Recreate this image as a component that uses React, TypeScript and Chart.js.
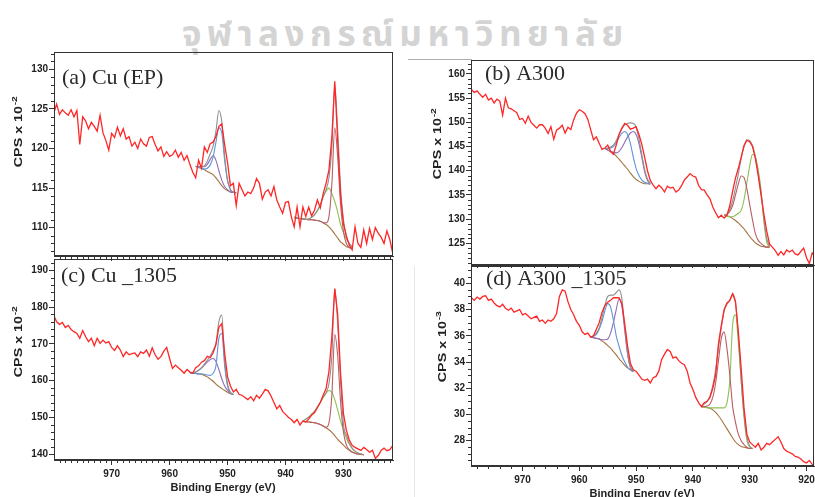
import React, { useEffect, useRef } from "react";
import { Chart, registerables } from "chart.js";
Chart.register(...registerables);

// ---------- data ----------
const STEP = 0.5; // eV between samples
const START_AC = 980; // first energy of spectra (a) and (c)
const START_BD = 979; // first energy of spectra (b) and (d)

// (a) Cu (EP) raw spectrum, CPS x 10^-2
const aRed = [124.4,125.6,124.3,124.9,124.5,124.2,124.9,124.0,124.8,120.5,
124.0,123.5,122.5,123.3,122.8,122.2,124.2,122.0,121.0,119.8,
121.9,121.4,122.7,121.6,122.5,121.2,121.5,120.3,120.8,120.0,
121.2,120.6,120.3,121.4,121.5,120.5,119.7,120.2,119.0,119.6,
119.0,119.2,119.8,118.9,119.5,118.5,119.1,118.0,117.0,116.3,
118.5,117.5,120.2,119.5,120.6,120.8,121.5,122.8,123.1,120.5,
118.2,115.3,115.6,112.8,115.6,114.8,114.0,114.5,114.3,115.0,
116.2,115.6,113.6,114.5,114.8,114.0,115.2,113.5,112.6,111.8,
113.2,113.3,111.4,110.1,112.6,110.1,112.6,111.4,112.6,111.5,
112.2,113.5,112.5,114.3,115.6,117.3,121.4,128.5,121.0,114.0,
110.5,108.9,107.8,107.2,110.1,108.0,107.5,109.7,108.0,109.9,
108.5,110.0,109.3,108.8,108.0,109.6,108.5,106.8];
// (a) fit, Cu 2p1/2 region
const aP12Start = 955.5;
const aP12Bg = [117.75,117.6,117.5,117.3,117.1,116.9,116.7,116.3,115.8,115.3,114.9,114.7,114.5,114.45,114.4];
const aP12Purple = [117.75,117.7,117.7,117.7,118.0,118.6,119.1,118.5,117.2,116.0,115.2,114.8,114.5,114.45,114.4];
const aP12Blue = [117.75,117.6,117.5,117.4,117.5,117.9,118.9,120.8,122.6,122.0,118.5,115.9,114.8,114.5,114.4];
const aP12Env = [117.75,117.7,117.7,117.8,118.4,119.3,120.3,122.2,124.8,123.4,119.0,116.0,114.8,114.5,114.4];
// (a) fit, Cu 2p3/2 region
const aP32Start = 938.5;
const aP32Bg = [111.3,111.2,111.15,111.1,111.05,111.0,111.0,110.95,110.9,110.8,110.6,110.4,110.1,109.7,109.2,108.7,108.2,107.9,107.6,107.5,107.4];
const aP32Comp = [111.3,111.2,111.15,111.1,111.05,111.0,111.0,110.95,110.9,110.8,110.65,110.6,111.4,115.5,122.6,119.0,113.0,109.5,108.0,107.5,107.4];
const aP32Green = [111.3,111.2,111.15,111.1,111.05,111.1,111.3,111.6,112.1,112.9,113.9,114.6,115.0,114.3,113.3,112.0,110.4,109.4,108.6,108.0,107.6];
const aP32Env = [111.3,111.2,111.15,111.1,111.05,111.1,111.3,111.65,112.2,112.9,113.9,114.8,116.3,120.1,128.0,122.3,115.2,111.0,109.0,108.0,107.6];

// (c) Cu _1305 raw spectrum, CPS x 10^-2
const cRed = [177.8,176.0,175.3,175.8,174.4,175.0,173.9,173.3,172.8,171.5,
173.6,172.0,170.6,171.5,169.5,171.5,170.1,171.0,170.2,170.6,
169.0,168.2,169.5,168.3,166.5,167.8,167.0,167.3,167.5,166.5,
167.8,167.4,168.3,166.6,168.9,167.0,165.8,166.5,168.0,169.0,
166.0,163.3,164.2,163.5,162.8,162.0,163.0,162.3,162.0,163.5,
164.0,165.0,165.4,166.6,166.2,167.5,169.8,174.5,175.5,167.5,
161.0,158.5,156.9,157.6,156.2,156.0,155.4,154.8,155.6,154.5,
156.0,155.2,156.3,157.6,157.2,155.8,154.0,152.3,153.2,151.6,
150.8,150.0,149.4,148.5,149.4,147.9,149.0,148.7,149.5,150.6,
151.2,152.6,154.0,156.0,157.8,162.5,172.0,185.0,178.0,162.0,
151.0,146.5,143.8,142.4,141.8,141.4,141.0,141.8,141.2,140.5,
141.0,138.8,139.6,141.0,141.6,140.9,141.2,142.3];
const cP12Start = 956.5;
const cP12Bg = [162.1,162.0,161.9,161.8,161.7,161.4,161.0,160.4,159.8,159.0,158.4,157.8,157.3,156.8,156.4,156.2];
const cP12Purple = [162.1,162.1,162.3,162.8,163.4,164.2,165.0,165.7,166.0,165.2,163.0,160.5,158.5,157.3,156.6,156.2];
const cP12Blue = [162.1,162.0,161.9,161.8,161.8,161.7,161.5,161.4,162.0,164.0,171.5,172.8,164.0,158.5,156.6,156.2];
const cP12Env = [162.1,162.1,162.3,162.8,163.5,164.5,165.5,166.7,168.2,170.2,176.0,177.8,165.5,159.0,156.8,156.2];
const cP32Start = 937;
const cP32Bg = [148.9,148.8,148.7,148.6,148.5,148.3,148.0,147.6,147.1,146.6,145.9,145.0,144.0,143.2,142.4,141.6,141.0,140.5,140.2,140.0,139.9,139.8];
const cP32Comp = [148.9,148.8,148.7,148.6,148.5,148.3,148.0,147.6,147.3,148.5,156.0,172.5,166.8,154.2,146.0,142.5,141.2,140.6,140.2,140.0,139.9,139.8];
const cP32Green = [149.0,149.5,150.0,150.8,151.6,152.8,154.0,155.3,156.5,157.3,156.8,154.8,152.0,149.0,146.5,144.3,142.7,141.5,140.8,140.3,140.0,139.8];
const cP32Env = [149.0,149.5,150.0,150.8,151.6,152.8,154.1,155.5,156.7,159.2,166.9,185.0,175.5,160.0,148.1,145.2,143.0,141.6,140.8,140.3,140.0,139.8];

// (b) A300 raw spectrum, CPS x 10^-2
const bRed = [156.8,156.2,156.5,155.8,155.2,155.8,154.6,155.0,154.0,154.8,
154.4,151.5,155.0,153.0,152.8,152.4,152.0,150.6,150.8,149.8,
151.3,150.0,149.4,148.8,149.5,149.5,148.8,147.7,149.1,146.5,
148.4,148.8,149.4,147.8,149.0,148.5,150.5,151.9,152.6,152.3,
151.8,150.6,148.5,146.4,147.0,145.7,144.4,144.7,145.3,144.0,
143.4,145.3,147.5,148.8,149.8,149.4,148.6,148.8,149.1,147.5,
145.5,142.8,140.0,138.0,137.0,136.3,137.0,136.5,135.6,136.8,
136.4,136.6,135.6,136.0,136.9,138.1,138.7,139.4,138.9,138.7,
137.0,136.1,136.0,135.0,134.2,132.5,131.3,130.3,130.8,130.2,
130.8,132.8,135.8,138.5,140.5,142.8,145.2,146.3,146.0,145.0,
142.5,139.0,135.0,131.0,127.5,124.8,124.2,123.5,122.5,123.3,
122.6,123.6,123.2,123.6,122.8,122.6,123.3,124.0,122.0,120.8,
123.0,122.2];
const bP12Start = 955.5;
const bP12Bg = [144.6,144.3,143.9,143.6,143.0,142.4,141.7,141.0,140.3,139.5,138.8,138.2,137.8,137.5,137.3,137.3,137.2];
const bP12Blue = [144.6,144.6,144.7,145.0,145.8,146.9,147.7,148.1,147.5,145.6,142.8,140.5,139.0,138.1,137.6,137.4,137.2];
const bP12Purple = [144.6,144.3,144.0,143.8,143.7,144.0,144.8,145.9,147.0,147.8,148.1,147.5,145.6,142.8,139.8,138.0,137.3];
const bP12Env = [144.6,144.7,144.9,145.3,146.2,147.5,148.7,149.5,149.8,149.9,149.8,149.0,146.6,143.4,140.3,138.3,137.4];
const bP32Start = 934.5;
const bP32Bg = [130.8,130.7,130.5,130.1,129.7,129.2,128.6,128.0,127.2,126.4,125.7,125.1,124.7,124.4,124.3,124.2,124.2];
const bP32Comp = [130.8,131.0,131.6,132.8,135.0,137.3,138.9,138.6,136.3,133.0,129.8,127.0,125.6,125.0,124.5,124.2,124.2];
const bP32Green = [130.8,130.6,130.5,130.5,130.8,131.2,131.8,134.0,137.5,141.0,143.4,142.8,140.2,136.0,129.5,125.2,124.3];
const bP32Env = [130.8,131.0,132.0,133.8,136.5,139.3,142.5,145.0,146.4,146.2,145.2,142.9,139.5,135.3,130.0,126.0,124.4];

// (d) A300 _1305 raw spectrum, CPS x 10^-3
const dRed = [38.9,38.7,38.95,38.8,39.0,39.05,38.7,38.8,38.5,38.3,
38.2,38.4,38.1,37.95,38.1,37.8,37.9,38.0,37.6,37.7,
37.5,37.3,37.4,37.5,37.1,37.2,36.95,37.2,37.1,37.3,
37.7,39.0,39.5,39.4,38.6,38.0,37.6,37.1,36.8,36.3,
36.1,36.2,35.9,36.0,36.5,37.0,37.8,38.3,38.55,38.7,
38.9,38.9,38.9,38.4,36.9,35.2,33.9,33.4,33.3,33.0,
32.7,32.6,32.7,32.4,32.8,32.9,33.3,34.2,34.6,34.95,
34.8,34.3,34.4,34.1,33.9,33.8,33.3,32.4,31.9,31.3,
30.9,30.6,30.9,31.0,31.3,32.0,33.0,35.4,36.8,38.0,
38.5,38.7,39.2,38.6,36.3,33.5,30.5,28.5,27.9,27.7,
27.5,27.8,27.3,27.5,27.8,27.7,27.9,28.1,28.3,27.9,
27.4,27.2,27.1,27.0,26.8,26.75,26.6,26.4,26.3,26.5,
26.2,26.1];
const dP12Start = 958;
const dP12Bg = [35.9,35.85,35.8,35.75,35.6,35.45,35.25,35.05,34.8,34.55,34.25,34.0,33.75,33.55,33.4,33.25];
const dP12Blue = [35.9,35.95,36.1,36.5,37.1,37.9,38.45,38.2,37.2,36.0,35.2,34.5,34.0,33.6,33.4,33.25];
const dP12Purple = [35.9,35.85,35.8,35.75,35.7,35.7,35.75,36.2,37.0,38.0,38.8,38.3,36.4,34.6,33.6,33.3];
const dP12Env = [35.9,36.0,36.2,36.6,37.4,38.3,39.0,39.1,39.1,39.3,39.5,38.8,36.6,34.7,33.6,33.3];
const dP32Start = 938.5;
const dP32Bg = [30.6,30.58,30.55,30.47,30.35,30.15,29.9,29.6,29.25,28.9,28.56,28.2,27.9,27.7,27.55,27.5,27.45,27.4,27.4];
const dP32Comp = [30.6,30.6,30.65,30.8,31.3,32.4,34.1,35.8,36.3,35.0,33.0,30.6,29.4,28.5,28.0,27.7,27.5,27.4,27.4];
const dP32Green = [30.6,30.55,30.5,30.5,30.5,30.5,30.5,30.5,30.5,30.9,32.6,36.9,37.6,35.5,32.6,29.8,28.05,27.5,27.4];
const dP32Env = [30.6,30.8,31.0,31.4,32.2,33.4,35.1,36.6,37.9,38.4,38.7,39.2,38.5,36.0,32.6,30.0,28.3,27.6,27.4];

// tick labels
const xTicksAC = [970, 960, 950, 940, 930];
const xTicksBD = [970, 960, 950, 940, 930, 920];
const yTicksA = [110, 115, 120, 125, 130];
const yTicksB = [125, 130, 135, 140, 145, 150, 155, 160];
const yTicksC = [140, 150, 160, 170, 180, 190];
const yTicksD = [28, 30, 32, 34, 36, 38, 40];

// ---------- styles ----------
const SANS = '"Liberation Sans", Arial, sans-serif';
const SERIF = '"Liberation Serif", "Times New Roman", serif';
const COL = {
  red: "#ff2626",
  env: "#8f8f8f",
  bg: "#a3733f",
  comp: "#bb5d66",
  green: "#8dc153",
  blue: "#6094d8",
  purple: "#8d6db6",
};

function pts(start: number, vals: number[]) {
  return vals.map((y, i) => ({ x: start - i * STEP, y }));
}
function fitLine(start: number, vals: number[], color: string) {
  return {
    data: pts(start, vals),
    borderColor: color,
    borderWidth: 1.1,
    pointRadius: 0,
    fill: false,
    cubicInterpolationMode: "monotone",
  };
}
function rawLine(start: number, vals: number[]) {
  return {
    data: pts(start, vals),
    borderColor: COL.red,
    borderWidth: 1.3,
    pointRadius: 0,
    fill: false,
    tension: 0,
  };
}

const decor = {
  id: "decor",
  afterDraw(chart: any, _args: any, o: any) {
    const { ctx, chartArea: a } = chart;
    const xs = chart.scales.x;
    const ys = chart.scales.y;
    ctx.save();
    ctx.strokeStyle = "#333";
    ctx.lineWidth = 1;
    ctx.strokeRect(Math.round(a.left) + 0.5, Math.round(a.top) + 0.5, Math.round(a.right - a.left) - 1, Math.round(a.bottom - a.top) - 1);
    const minor = (scale: any, step: number, majors: number[], horiz: boolean) => {
      const n0 = Math.ceil(scale.min / step - 1e-6);
      const n1 = Math.floor(scale.max / step + 1e-6);
      ctx.beginPath();
      for (let n = n0; n <= n1; n++) {
        const v = n * step;
        if (majors.some((m) => Math.abs(m - v) < 1e-6)) continue;
        const p = Math.round(scale.getPixelForValue(v)) + 0.5;
        if (horiz) {
          ctx.moveTo(p, a.bottom);
          ctx.lineTo(p, a.bottom + 3);
        } else {
          ctx.moveTo(a.left, p);
          ctx.lineTo(a.left - 3, p);
        }
      }
      ctx.stroke();
    };
    minor(xs, o.xMinor, o.xMajors, true);
    minor(ys, o.yMinor, o.yMajors, false);

    // y title with superscript exponent
    ctx.fillStyle = "#222";
    ctx.save();
    ctx.translate(o.yTitle.x, o.yTitle.y);
    ctx.rotate(-Math.PI / 2);
    ctx.scale(1.3, 1);
    ctx.textBaseline = "middle";
    ctx.textAlign = "left";
    ctx.font = `bold 11px ${SANS}`;
    const main = "CPS x 10";
    const w1 = ctx.measureText(main).width;
    ctx.font = `bold 8px ${SANS}`;
    const w2 = ctx.measureText(o.yTitle.exp).width;
    const s = -(w1 + w2) / 2;
    ctx.font = `bold 11px ${SANS}`;
    ctx.fillText(main, s, 0);
    ctx.font = `bold 8px ${SANS}`;
    ctx.fillText(o.yTitle.exp, s + w1 + 0.5, -4);
    ctx.restore();

    if (o.xTitle) {
      ctx.font = `bold 11px ${SANS}`;
      ctx.textAlign = "center";
      ctx.textBaseline = "middle";
      ctx.fillText("Binding Energy (eV)", o.xTitle.x, o.xTitle.y);
    }
    ctx.fillStyle = "#2a2a2a";
    ctx.font = `22px ${SERIF}`;
    ctx.textAlign = "left";
    ctx.textBaseline = "alphabetic";
    ctx.fillText(o.label.text, o.label.x, o.label.y);
    ctx.restore();
  },
};

type Panel = {
  left: number; top: number; w: number; h: number;
  area: { l: number; t: number; r: number; b: number };
  xh: number;
  xMin: number; xMax: number; yMin: number; yMax: number;
  xMajors: number[]; yMajors: number[]; xMinor: number; yMinor: number;
  xLabels: boolean;
  datasets: any[];
  yTitle: { x: number; y: number; exp: string };
  xTitle: { x: number; y: number } | null;
  label: { text: string; x: number; y: number };
};

const panels: Panel[] = [
  {
    left: 0, top: 0, w: 400, h: 262,
    area: { l: 54, t: 52, r: 393, b: 256 }, xh: 5,
    xMin: 921.45, xMax: 979.95, yMin: 106.42, yMax: 132.19,
    xMajors: xTicksAC, yMajors: yTicksA, xMinor: 1, yMinor: 1, xLabels: false,
    datasets: [
      rawLine(START_AC, aRed),
      fitLine(aP12Start, aP12Env, COL.env),
      fitLine(aP12Start, aP12Blue, COL.blue),
      fitLine(aP12Start, aP12Purple, COL.purple),
      fitLine(aP12Start, aP12Bg, COL.bg),
      fitLine(aP32Start, aP32Env, COL.env),
      fitLine(aP32Start, aP32Comp, COL.comp),
      fitLine(aP32Start, aP32Green, COL.green),
      fitLine(aP32Start, aP32Bg, COL.bg),
    ],
    yTitle: { x: 19, y: 132, exp: "-2" }, xTitle: null,
    label: { text: "(a) Cu (EP)", x: 62, y: 84 },
  },
  {
    left: 0, top: 256, w: 400, h: 241,
    area: { l: 54, t: 3, r: 393, b: 204 }, xh: 20,
    xMin: 921.45, xMax: 979.95, yMin: 138.37, yMax: 193.08,
    xMajors: xTicksAC, yMajors: yTicksC, xMinor: 1, yMinor: 2, xLabels: true,
    datasets: [
      rawLine(START_AC, cRed),
      fitLine(cP12Start, cP12Env, COL.env),
      fitLine(cP12Start, cP12Blue, COL.blue),
      fitLine(cP12Start, cP12Purple, COL.purple),
      fitLine(cP12Start, cP12Bg, COL.bg),
      fitLine(cP32Start, cP32Env, COL.env),
      fitLine(cP32Start, cP32Comp, COL.comp),
      fitLine(cP32Start, cP32Green, COL.green),
      fitLine(cP32Start, cP32Bg, COL.bg),
    ],
    yTitle: { x: 19, y: 86, exp: "-2" }, xTitle: { x: 223, y: 232 },
    label: { text: "(c) Cu _1305", x: 61, y: 26 },
  },
  {
    left: 405, top: 0, w: 410, h: 268,
    area: { l: 66, t: 60, r: 409, b: 265 }, xh: 2,
    xMin: 918.68, xMax: 979.07, yMin: 120.51, yMax: 162.89,
    xMajors: xTicksBD, yMajors: yTicksB, xMinor: 2, yMinor: 1, xLabels: false,
    datasets: [
      rawLine(START_BD, bRed),
      fitLine(bP12Start, bP12Env, COL.env),
      fitLine(bP12Start, bP12Blue, COL.blue),
      fitLine(bP12Start, bP12Purple, COL.purple),
      fitLine(bP12Start, bP12Bg, COL.bg),
      fitLine(bP32Start, bP32Env, COL.env),
      fitLine(bP32Start, bP32Comp, COL.comp),
      fitLine(bP32Start, bP32Green, COL.green),
      fitLine(bP32Start, bP32Bg, COL.bg),
    ],
    yTitle: { x: 33, y: 144, exp: "-2" }, xTitle: null,
    label: { text: "(b) A300", x: 80, y: 80 },
  },
  {
    left: 405, top: 264, w: 410, h: 233,
    area: { l: 66, t: 2, r: 409, b: 202 }, xh: 20,
    xMin: 918.68, xMax: 979.07, yMin: 26.07, yMax: 41.32,
    xMajors: xTicksBD, yMajors: yTicksD, xMinor: 2, yMinor: 0.5, xLabels: true,
    datasets: [
      rawLine(START_BD, dRed),
      fitLine(dP12Start, dP12Env, COL.env),
      fitLine(dP12Start, dP12Blue, COL.blue),
      fitLine(dP12Start, dP12Purple, COL.purple),
      fitLine(dP12Start, dP12Bg, COL.bg),
      fitLine(dP32Start, dP32Env, COL.env),
      fitLine(dP32Start, dP32Comp, COL.comp),
      fitLine(dP32Start, dP32Green, COL.green),
      fitLine(dP32Start, dP32Bg, COL.bg),
    ],
    yTitle: { x: 38, y: 83, exp: "-3" }, xTitle: { x: 237, y: 230 },
    label: { text: "(d) A300 _1305", x: 81, y: 21 },
  },
];

function makeChart(canvas: HTMLCanvasElement, p: Panel) {
  const tickFont = { family: SANS, size: 10, weight: "bold" as const };
  return new Chart(canvas, {
    type: "line",
    data: { datasets: p.datasets as any },
    plugins: [decor as any],
    options: {
      animation: false,
      responsive: false,
      maintainAspectRatio: false,
      parsing: false as any,
      normalized: true,
      layout: {
        padding: {
          left: 0,
          top: p.area.t,
          right: p.w - p.area.r,
          bottom: p.h - p.area.b - p.xh,
        },
      },
      plugins: {
        legend: { display: false },
        tooltip: { enabled: false },
        decor: {
          xMinor: p.xMinor, yMinor: p.yMinor, xMajors: p.xMajors, yMajors: p.yMajors,
          yTitle: p.yTitle, xTitle: p.xTitle, label: p.label,
        },
      } as any,
      scales: {
        x: {
          type: "linear",
          reverse: true,
          min: p.xMin,
          max: p.xMax,
          afterBuildTicks: (s: any) => { s.ticks = p.xMajors.map((v) => ({ value: v })); },
          afterFit: (s: any) => { s.height = p.xh; s.paddingLeft = 0; s.paddingRight = 0; },
          ticks: { display: p.xLabels, font: tickFont, color: "#222", padding: 3, maxRotation: 0, autoSkip: false },
          grid: { display: true, drawOnChartArea: false, drawTicks: true, tickLength: 5, tickColor: "#333", color: "#333" },
          border: { display: true, color: "#333", width: 1 },
        },
        y: {
          type: "linear",
          min: p.yMin,
          max: p.yMax,
          afterBuildTicks: (s: any) => { s.ticks = p.yMajors.map((v) => ({ value: v })); },
          afterFit: (s: any) => { s.width = p.area.l; s.paddingTop = 0; s.paddingBottom = 0; },
          ticks: { font: tickFont, color: "#222", padding: 1, autoSkip: false },
          grid: { display: true, drawOnChartArea: false, drawTicks: true, tickLength: 5, tickColor: "#333", color: "#333" },
          border: { display: true, color: "#333", width: 1 },
        },
      },
    } as any,
  });
}

export default function App() {
  const refs = useRef<(HTMLCanvasElement | null)[]>([]);
  useEffect(() => {
    const charts = panels.map((p, i) => makeChart(refs.current[i] as HTMLCanvasElement, p));
    return () => charts.forEach((c) => c.destroy());
  }, []);
  return (
    <div style={{ position: "absolute", left: 0, top: 0, width: 815, height: 497, overflow: "hidden", background: "#fff" }}>
      <div
        style={{
          position: "absolute", left: 182, top: 9, whiteSpace: "nowrap",
          fontFamily: '"Noto Sans Thai", "Noto Serif Thai", Loma, Garuda, "Tlwg Typo", sans-serif',
          fontWeight: 700, fontSize: 35, color: "#d4d4d4", letterSpacing: 5.5,
        }}
      >
        จุฬาลงกรณ์มหาวิทยาลัย
      </div>
      <div style={{ position: "absolute", left: 408, top: 59, width: 64, height: 1, background: "#b0b0b0" }} />
      <div style={{ position: "absolute", left: 414, top: 266, width: 1, height: 231, background: "#e6e6e6" }} />
      {panels.map((p, i) => (
        <canvas
          key={i}
          ref={(el) => { refs.current[i] = el; }}
          width={p.w}
          height={p.h}
          style={{ position: "absolute", left: p.left, top: p.top, width: p.w, height: p.h }}
        />
      ))}
    </div>
  );
}
